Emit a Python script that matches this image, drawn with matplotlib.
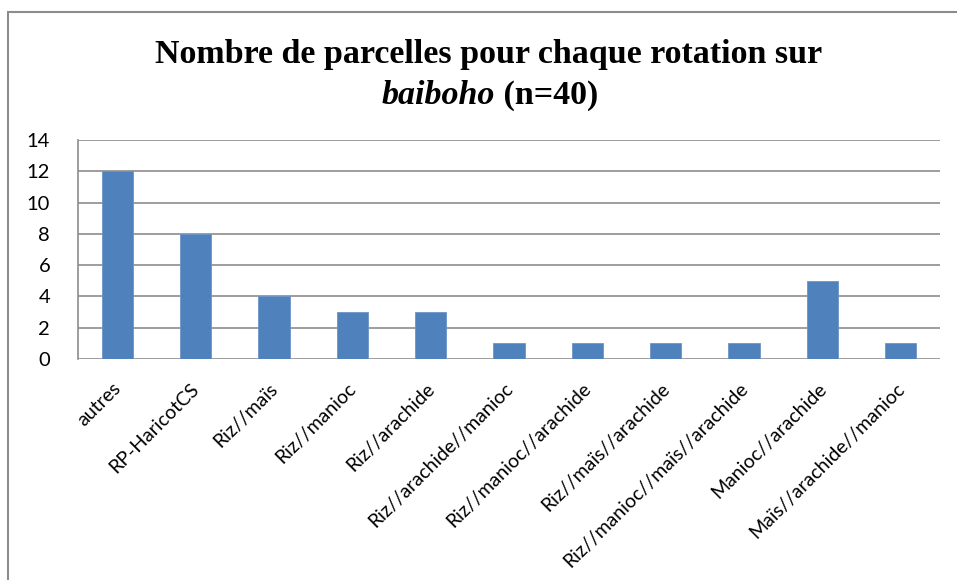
import matplotlib.pyplot as plt
import matplotlib.transforms as mtransforms
from matplotlib.patches import Rectangle

# Data
rotations = ["autres", "RP-HaricotCS", "Riz//maïs", "Riz//manioc", "Riz//arachide",
             "Riz//arachide//manioc", "Riz//manioc//arachide", "Riz//maïs//arachide",
             "Riz//manioc//maïs//arachide", "Manioc//arachide", "Maïs//arachide//manioc"]
parcelles = [12, 8, 4, 3, 3, 1, 1, 1, 1, 5, 1]
yticks = [0, 2, 4, 6, 8, 10, 12, 14]

W, H = 957, 580
fig = plt.figure(figsize=(W / 100, H / 100), dpi=100)

# chart frame (cut off at right and bottom like the source)
fig.patches.append(Rectangle((8 / W, -0.1), 1.2, (H - 12) / H + 0.1,
                             transform=fig.transFigure, fill=False,
                             edgecolor="#8c8c8c", linewidth=1.5))

# plot area in pixels: x 78..940, y 140..359
ax = fig.add_axes([78 / W, (H - 359) / H, (940 - 78) / W, (359 - 140) / H])

ax.bar(range(len(rotations)), parcelles, width=0.4, color="#4F81BD",
       edgecolor="#6b95c8", linewidth=0.6, zorder=3)

ax.set_xlim(-0.5, len(rotations) - 0.5)
ax.set_ylim(0, 14)
ax.set_yticks(yticks)
ax.yaxis.grid(True, color="#8c8c8c", linewidth=1.2)
ax.set_axisbelow(True)

for s in ["top", "right", "bottom"]:
    ax.spines[s].set_visible(False)
ax.spines["left"].set_color("#8c8c8c")
ax.spines["left"].set_linewidth(1.2)

ax.tick_params(axis="y", length=0, pad=20, labelsize=14.5)
ax.tick_params(axis="x", length=0, pad=15)
ax.set_xticks(range(len(rotations)))
ax.set_xticklabels(rotations, rotation=45, ha="right", va="top",
                   rotation_mode="anchor", fontsize=14, family="Lato")
shift = mtransforms.ScaledTranslation(-5 / 100, 0, fig.dpi_scale_trans)
for lab in ax.get_xticklabels():
    lab.set_transform(lab.get_transform() + shift)
for lab in ax.get_yticklabels():
    lab.set_family("Lato")

# title, line 1
fig.text(489 / W, (H - 55) / H, "Nombre de parcelles pour chaque rotation sur",
         ha="center", va="center", fontsize=24.5, fontweight="bold",
         family="Liberation Serif")

# title, line 2: italic word + normal bold part, centred together
y2 = (H - 95) / H
t1 = fig.text(0, y2, "baiboho", ha="left", va="center", fontsize=24.5,
              fontweight="bold", fontstyle="italic", family="Liberation Serif")
t2 = fig.text(0, y2, " (n=40)", ha="left", va="center", fontsize=24.5,
              fontweight="bold", family="Liberation Serif")
r = fig.canvas.get_renderer()
w1 = t1.get_window_extent(r).width
w2 = t2.get_window_extent(r).width
x0 = 490 - (w1 + w2) / 2
t1.set_x(x0 / W)
t2.set_x((x0 + w1) / W)

plt.savefig("out.png", dpi=100)
